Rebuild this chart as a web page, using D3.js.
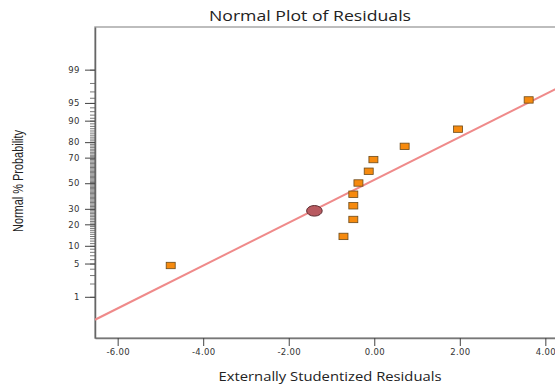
<!DOCTYPE html>
<html>
<head>
<meta charset="utf-8">
<script src="https://cdn.jsdelivr.net/npm/d3@7"></script>
<style>
  body { margin: 0; background: #fff; }
  svg { display: block; }
</style>
</head>
<body>
<div id="chart"></div>
<script>
// residuals (x) and normal % probability (y)
const residuals = [-4.76, -0.72, -0.49, -0.49, -0.49, -0.37, -0.13, -0.02, 0.71, 1.96, 3.61];
const probs     = [4.6, 13.8, 22.9, 32.2, 41.1, 50.2, 59.7, 68.6, 77.5, 86.6, 95.6];
// highlighted run
const hiResidual = -1.40, hiProb = 28.6;
// fitted normal line
const fitMean = -0.155, fitSd = 2.28;

const xTicks = [-6, -4, -2, 0, 2, 4];
const yMajor = [1, 5, 10, 20, 30, 50, 70, 80, 90, 95, 99];
const yMinor = d3.range(1, 100);

const W = 555, H = 385;
const margin = {top: 27, right: 0, bottom: 47, left: 95};
const width = W - margin.left - margin.right,
      height = H - margin.top - margin.bottom;

// inverse normal cdf (Acklam)
function probit(p) {
  const a = [-3.969683028665376e+01, 2.209460984245205e+02, -2.759285104469687e+02, 1.383577518672690e+02, -3.066479806614716e+01, 2.506628277459239e+00];
  const b = [-5.447609879822406e+01, 1.615858368580409e+02, -1.556989798598866e+02, 6.680131188771972e+01, -1.328068155288572e+01];
  const c = [-7.784894002430293e-03, -3.223964580411365e-01, -2.400758277161838e+00, -2.549732539343734e+00, 4.374664141464968e+00, 2.938163982698783e+00];
  const d = [7.784695709041462e-03, 3.224671290700398e-01, 2.445134137142996e+00, 3.754408661907416e+00];
  const pl = 0.02425;
  let q, r;
  if (p < pl) {
    q = Math.sqrt(-2 * Math.log(p));
    return (((((c[0]*q+c[1])*q+c[2])*q+c[3])*q+c[4])*q+c[5]) / ((((d[0]*q+d[1])*q+d[2])*q+d[3])*q+1);
  } else if (p <= 1 - pl) {
    q = p - 0.5; r = q * q;
    return (((((a[0]*r+a[1])*r+a[2])*r+a[3])*r+a[4])*r+a[5])*q / (((((b[0]*r+b[1])*r+b[2])*r+b[3])*r+b[4])*r+1);
  } else {
    q = Math.sqrt(-2 * Math.log(1 - p));
    return -(((((c[0]*q+c[1])*q+c[2])*q+c[3])*q+c[4])*q+c[5]) / ((((d[0]*q+d[1])*q+d[2])*q+d[3])*q+1);
  }
}

const svg = d3.select("#chart").append("svg")
  .attr("width", W).attr("height", H);

const g = svg.append("g")
  .attr("transform", `translate(${margin.left},${margin.top})`);

const x = d3.scaleLinear().domain([-6.53, 4.6]).range([0, width + 16]);
const yz = d3.scaleLinear().domain([-3.17, 3.2]).range([height, 0]);
const y = p => yz(probit(p / 100));

// frame
g.append("rect")
  .attr("x", 0).attr("y", 0)
  .attr("width", width + 20).attr("height", height)
  .attr("fill", "none")
  .attr("stroke", "#a8a8a8")
  .attr("stroke-width", 1.5);

g.append("defs").append("clipPath").attr("id", "clip")
  .append("rect").attr("width", width + 20).attr("height", height);

// x axis
const xAxis = g.append("g")
  .attr("transform", `translate(0,${height})`)
  .call(d3.axisBottom(x).tickValues(xTicks).tickFormat(d => d.toFixed(2))
    .tickSize(8).tickSizeOuter(0).tickPadding(3));
xAxis.select(".domain").attr("stroke", "#777").attr("stroke-width", 1.5);
xAxis.selectAll(".tick line").attr("stroke", "#444");
xAxis.selectAll("text")
  .attr("font-family", "DejaVu Sans").attr("font-size", 8.5).attr("fill", "#333")
  .attr("letter-spacing", 0.3);

// y axis minor ticks
const yMinorAxis = g.append("g")
  .call(d3.axisLeft(yz).tickValues(yMinor.map(p => probit(p / 100))).tickFormat("")
    .tickSize(5).tickSizeOuter(0));
yMinorAxis.select(".domain").remove();
yMinorAxis.selectAll(".tick line").attr("stroke", "#555").attr("stroke-width", 0.8);

// y axis major ticks
const yAxis = g.append("g")
  .call(d3.axisLeft(yz).tickValues(yMajor.map(p => probit(p / 100)))
    .tickFormat((d, i) => yMajor[i]).tickSize(10).tickSizeOuter(0).tickPadding(5));
yAxis.select(".domain").attr("stroke", "#666").attr("stroke-width", 1.5);
yAxis.selectAll(".tick line").attr("stroke", "#444");
yAxis.selectAll("text")
  .attr("font-family", "DejaVu Sans").attr("font-size", 8.5).attr("fill", "#333")
  .attr("letter-spacing", 0.5);

// fitted line
const lineXs = x.domain();
g.append("path")
  .datum(lineXs)
  .attr("clip-path", "url(#clip)")
  .attr("fill", "none")
  .attr("stroke", "#ef8a8a")
  .attr("stroke-width", 2)
  .attr("d", d3.line()
    .x(d => x(d))
    .y(d => yz((d - fitMean) / fitSd)));

// points
g.selectAll(".pt")
  .data(residuals.map((r, i) => ({r: r, p: probs[i]})))
  .enter().append("rect")
  .attr("class", "pt")
  .attr("x", d => x(d.r) - 4.5)
  .attr("y", d => y(d.p) - 3.2)
  .attr("width", 9).attr("height", 6.4)
  .attr("fill", "#f68a0e")
  .attr("stroke", "#6b4a1a")
  .attr("stroke-width", 0.8);

g.append("ellipse")
  .attr("cx", x(hiResidual)).attr("cy", y(hiProb))
  .attr("rx", 7.8).attr("ry", 5.3)
  .attr("fill", "#b85a60")
  .attr("stroke", "#5a2a2e")
  .attr("stroke-width", 1);

// titles
svg.append("text")
  .attr("x", 310).attr("y", 21)
  .attr("text-anchor", "middle")
  .attr("font-family", "Open Sans").attr("font-size", 14).attr("fill", "#222")
  .attr("textLength", 202).attr("lengthAdjust", "spacingAndGlyphs")
  .text("Normal Plot of Residuals");

svg.append("text")
  .attr("x", 330).attr("y", 381)
  .attr("text-anchor", "middle")
  .attr("font-family", "Open Sans").attr("font-size", 12).attr("fill", "#222")
  .attr("textLength", 223).attr("lengthAdjust", "spacingAndGlyphs")
  .text("Externally Studentized Residuals");

svg.append("text")
  .attr("transform", "translate(22.5,181) rotate(-90)")
  .attr("text-anchor", "middle")
  .attr("font-family", "Liberation Sans Narrow, Liberation Sans, sans-serif")
  .attr("font-size", 14).attr("fill", "#222")
  .attr("textLength", 102).attr("lengthAdjust", "spacingAndGlyphs")
  .text("Normal % Probability");
</script>
</body>
</html>
